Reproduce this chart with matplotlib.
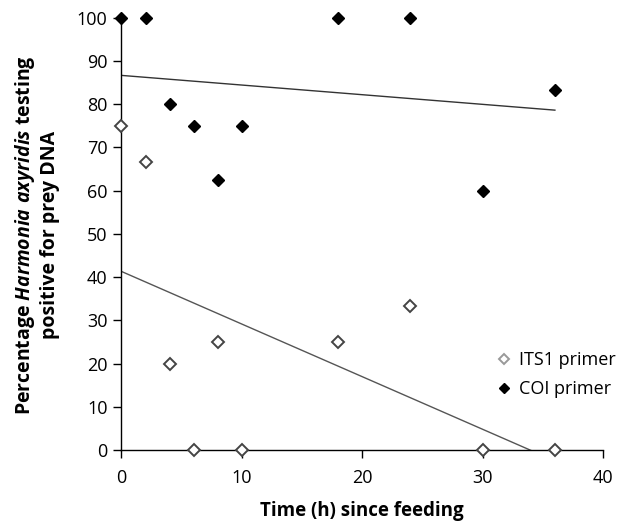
import numpy as np
import matplotlib
matplotlib.use("Agg")
import matplotlib.pyplot as plt

# Data
hours = [0, 2, 4, 6, 8, 10, 18, 24, 30, 36]
its1_pct = [75, 66.7, 20, 0, 25, 0, 25, 33.3, 0, 0]
coi_pct = [100, 100, 80, 75, 62.5, 75, 100, 100, 60, 83.3]
x_ticks = [0, 10, 20, 30, 40]
y_ticks = [0, 10, 20, 30, 40, 50, 60, 70, 80, 90, 100]

plt.rcParams['font.family'] = ['Open Sans', 'DejaVu Sans']
plt.rcParams['mathtext.fontset'] = 'custom'
plt.rcParams['mathtext.it'] = 'Open Sans:italic:bold'
plt.rcParams['mathtext.rm'] = 'Open Sans:bold'

fig = plt.figure(figsize=(6.23, 5.22), dpi=100)
ax = fig.add_axes([0.195, 0.138, 0.773, 0.828])

x = np.array(hours, dtype=float)
# Trend lines (linear least squares)
for ys, col in ((coi_pct, '#333333'), (its1_pct, '#555555')):
    m, b = np.polyfit(x, np.array(ys, dtype=float), 1)
    xs = np.array([0, 36])
    ax.plot(xs, m * xs + b, color=col, lw=1.0, zorder=2)

ax.plot(hours, its1_pct, linestyle='none', marker='D', markersize=6.5,
        markerfacecolor='white', markeredgecolor='#444444', markeredgewidth=1.4,
        label='ITS1 primer', zorder=4, clip_on=False)
ax.plot(hours, coi_pct, linestyle='none', marker='D', markersize=6.5,
        markerfacecolor='black', markeredgecolor='black', markeredgewidth=1.0,
        label='COI primer', zorder=4, clip_on=False)

ax.set_xlim(0, 40)
ax.set_ylim(0, 100)
ax.set_xticks(x_ticks)
ax.set_yticks(y_ticks)
ax.tick_params(axis='both', direction='out', length=6, width=1, labelsize=13,
               color='black')
ax.tick_params(axis='x', pad=7.5)
ax.tick_params(axis='y', pad=4)
for s in ('top', 'right'):
    ax.spines[s].set_visible(False)
for s in ('left', 'bottom'):
    ax.spines[s].set_linewidth(1.0)
    ax.spines[s].set_color('black')

ax.set_xlabel('Time (h) since feeding', fontsize=13.5, fontweight='bold')
ax.xaxis.set_label_coords(0.5, -0.118)
ax.set_ylabel('Percentage $Harmonia\\ axyridis$ testing\npositive for prey DNA',
              fontsize=14, fontweight='bold', linespacing=1.2)
ax.yaxis.set_label_coords(-0.128, 0.497)

leg = ax.legend(loc='upper left', bbox_to_anchor=(0.76, 0.245), frameon=False,
                fontsize=13, handletextpad=0.35, handlelength=1.0,
                borderaxespad=0, labelspacing=0.6, markerscale=0.8)
leg.legend_handles[0].set_markeredgecolor('#999999')

fig.savefig('out.png', dpi=100)
